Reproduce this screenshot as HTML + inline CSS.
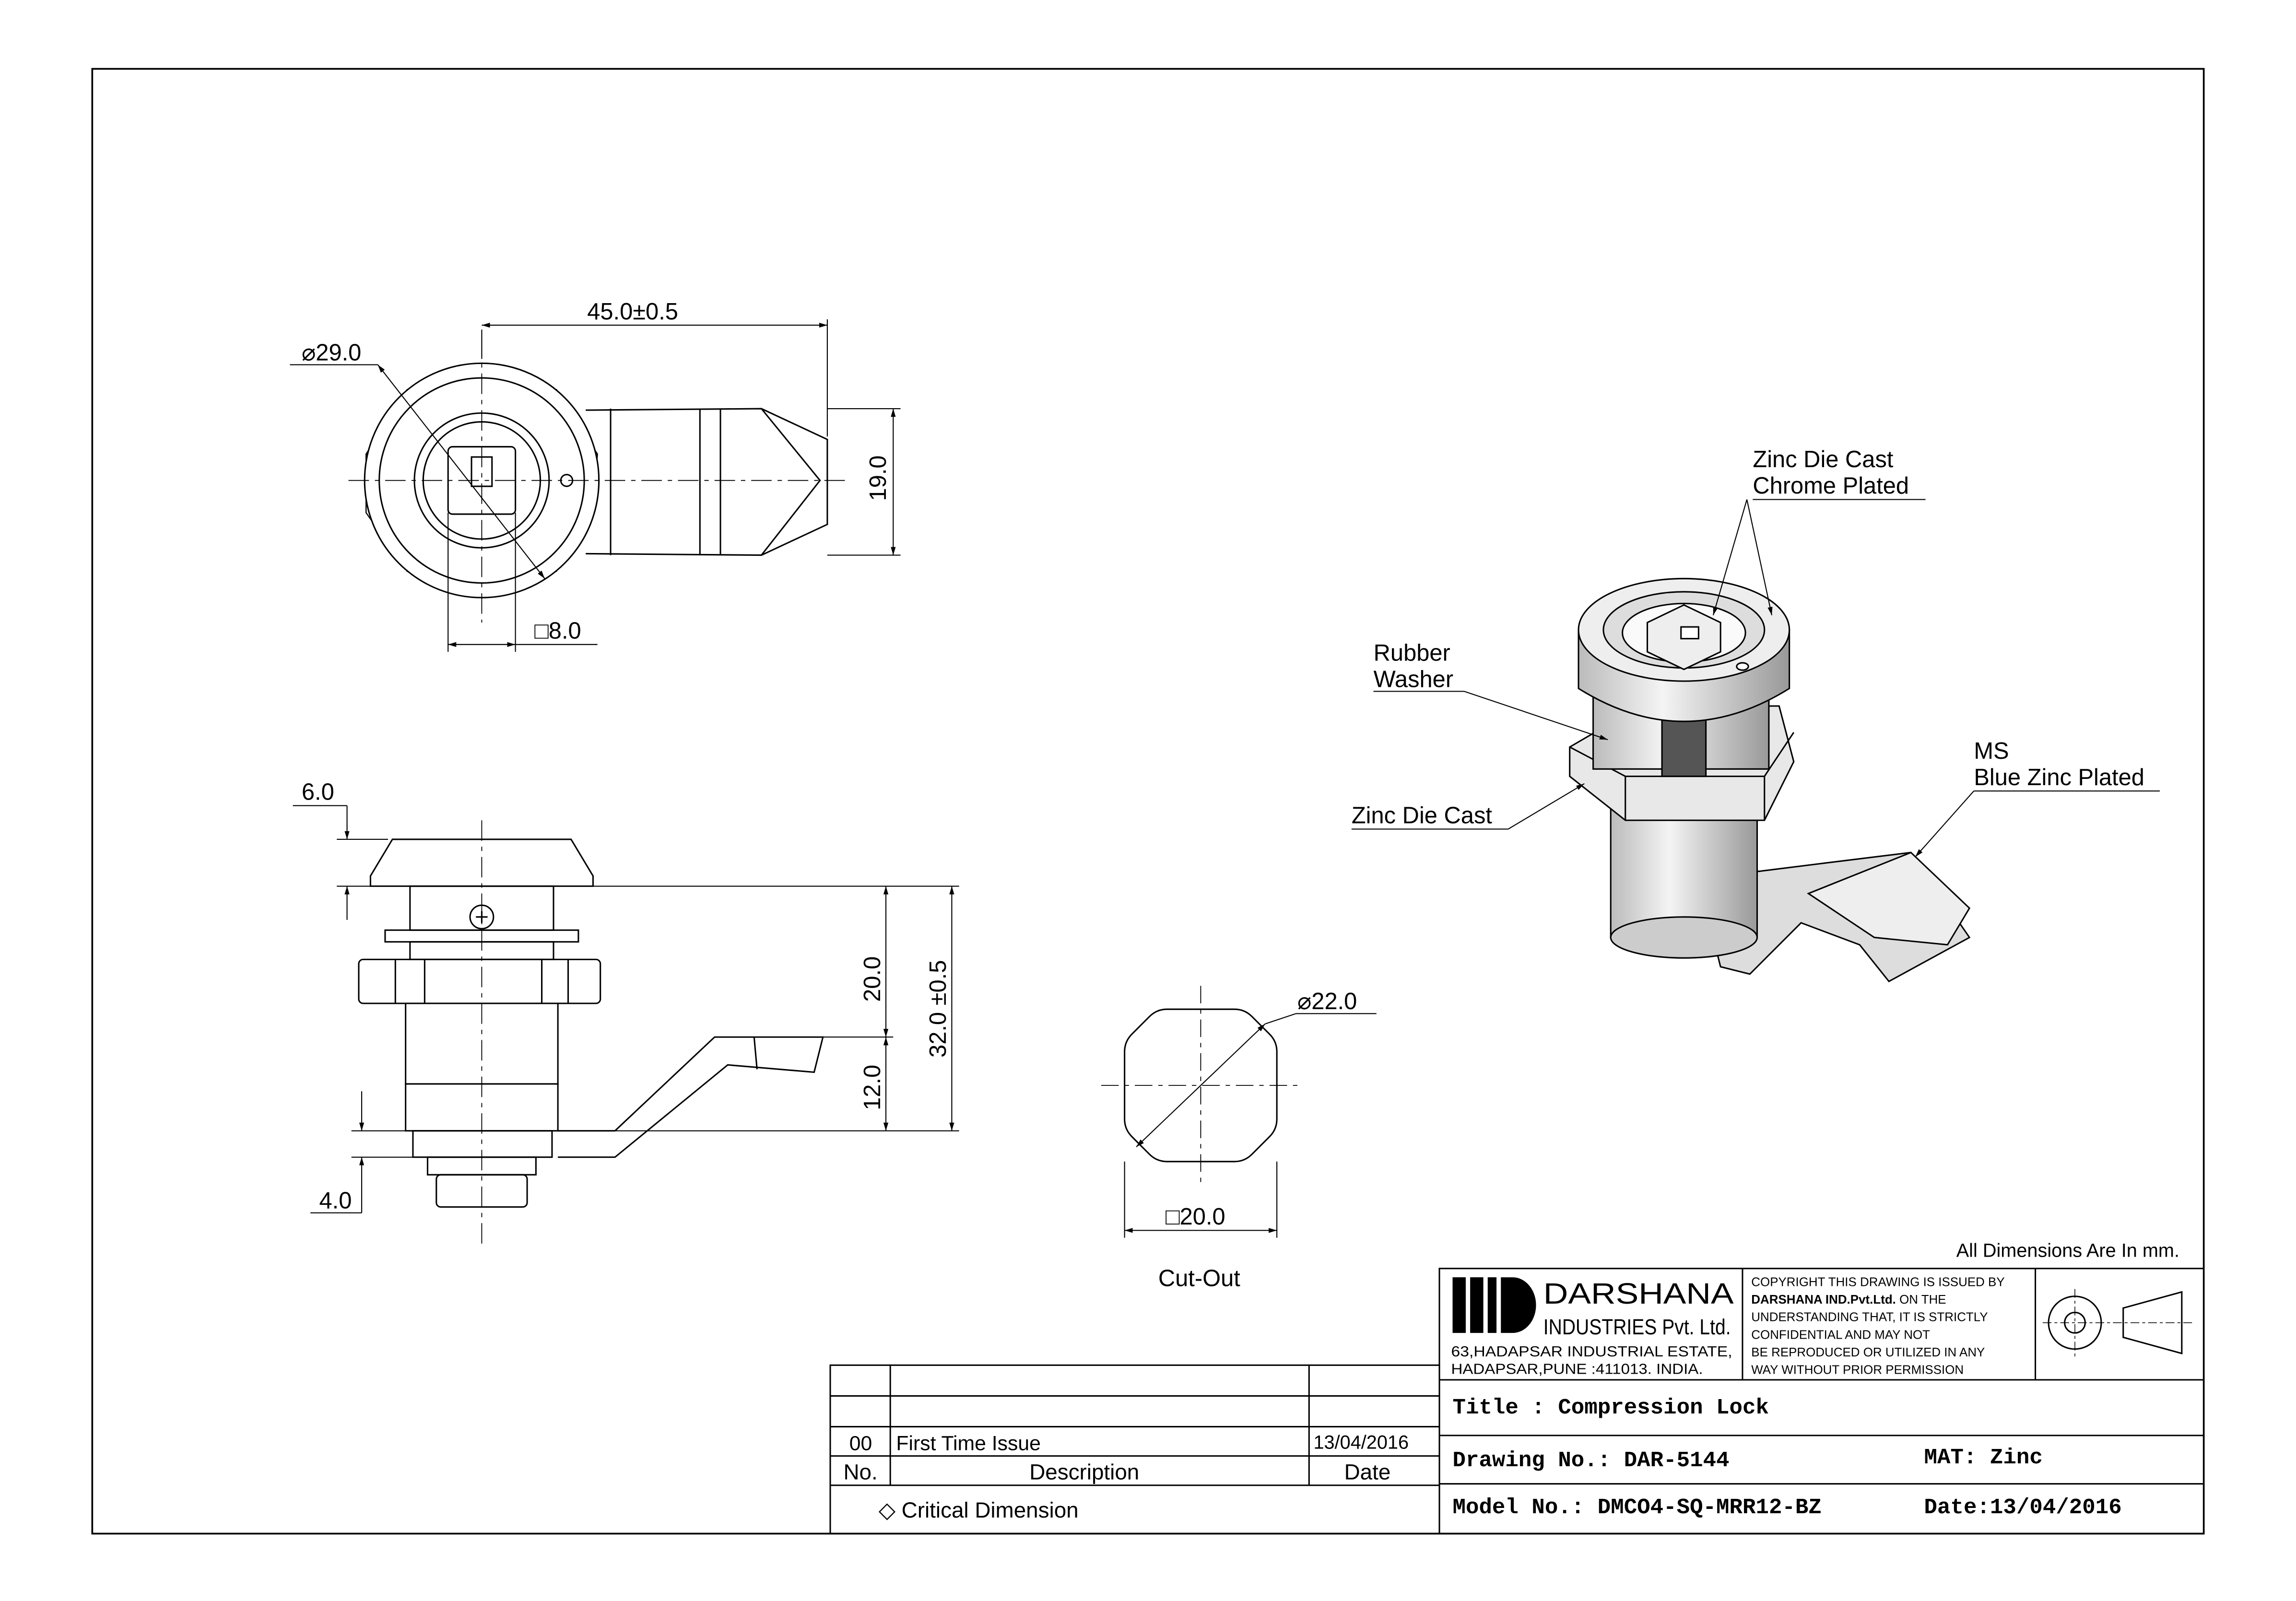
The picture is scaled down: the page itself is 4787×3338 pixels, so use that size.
<!DOCTYPE html>
<html><head><meta charset="utf-8"><style>
html,body{margin:0;padding:0;background:#fff}
svg{display:block}
text{font-family:"Liberation Sans",sans-serif;fill:#000}
.m{font-family:"Liberation Mono",monospace;font-weight:bold}
</style></head><body>
<svg width="4787" height="3338" viewBox="0 0 1568 1093" preserveAspectRatio="none" xmlns="http://www.w3.org/2000/svg">
<defs>
<marker id="a" viewBox="0 0 10 10" refX="10" refY="5" markerWidth="8" markerHeight="8" orient="auto-start-reverse"><path d="M0,2 L10,5 L0,8z" fill="#000"/></marker>
<linearGradient id="g" x1="0" x2="1"><stop offset="0" stop-color="#bbb"/><stop offset=".4" stop-color="#f4f4f4"/><stop offset="1" stop-color="#999"/></linearGradient>
</defs>
<rect x="0" y="0" width="1568" height="1093" fill="#fff"/>
<rect x="63" y="47" width="1442" height="1000" fill="none" stroke="#000" stroke-width="1.2"/>

<!-- TOP VIEW -->
<g fill="none" stroke="#000" stroke-width="1">
<polygon points="329,252 380,266 408,310 405,350 380,390 329,405 278,390 250,350 250,310 278,266" stroke-width="0.8"/>
<circle cx="329" cy="328" r="80" fill="#fff"/>
<circle cx="329" cy="328" r="70"/>
<circle cx="329" cy="328" r="46"/>
<circle cx="329" cy="328" r="40"/>
<rect x="306" y="305" width="46" height="46" rx="3"/>
<rect x="322" y="312" width="14" height="20"/>
<circle cx="387" cy="328" r="4"/>
<path d="M400,280 L520,279 L565,300 L565,358 L520,379 L400,378"/>
<line x1="417" y1="279" x2="417" y2="379"/>
<line x1="478" y1="279" x2="478" y2="379"/>
<line x1="492" y1="279" x2="492" y2="379"/>
<path d="M520,279 L560,328 L520,379"/>
</g>
<g stroke="#000" stroke-width="0.6" stroke-dasharray="14,4,3,4" fill="none">
<line x1="238" y1="328" x2="580" y2="328"/><line x1="329" y1="230" x2="329" y2="425"/>
</g>
<g stroke="#000" stroke-width="0.7" fill="none">
<line x1="329" y1="225" x2="329" y2="245"/><line x1="565" y1="218" x2="565" y2="298"/>
<line x1="329" y1="222" x2="565" y2="222" marker-start="url(#a)" marker-end="url(#a)"/>
<line x1="565" y1="279" x2="615" y2="279"/><line x1="565" y1="379" x2="615" y2="379"/>
<line x1="610" y1="279" x2="610" y2="379" marker-start="url(#a)" marker-end="url(#a)"/>
<line x1="198" y1="249" x2="258" y2="249"/><line x1="258" y1="249" x2="372" y2="395" marker-start="url(#a)" marker-end="url(#a)"/>
<line x1="306" y1="350" x2="306" y2="445"/><line x1="352" y1="350" x2="352" y2="445"/>
<line x1="306" y1="440" x2="352" y2="440" marker-start="url(#a)" marker-end="url(#a)"/><line x1="352" y1="440" x2="408" y2="440"/>
</g>
<text x="401" y="218" font-size="16">45.0±0.5</text>
<text x="206" y="246" font-size="16">⌀29.0</text>
<text x="365" y="436" font-size="16">□8.0</text>
<text x="605" y="342" font-size="16" transform="rotate(-90 605 342)">19.0</text>

<!-- SIDE VIEW -->
<g fill="none" stroke="#000" stroke-width="1">
<path d="M268,573 L390,573 L405,598 L405,605 L253,605 L253,598 Z" fill="#fff"/>
<rect x="280" y="605" width="98" height="30"/>
<rect x="263" y="635" width="132" height="8"/>
<rect x="280" y="643" width="98" height="12"/>
<rect x="245" y="655" width="165" height="30" rx="3"/>
<line x1="270" y1="655" x2="270" y2="685"/><line x1="290" y1="655" x2="290" y2="685"/><line x1="370" y1="655" x2="370" y2="685"/><line x1="388" y1="655" x2="388" y2="685"/>
<rect x="277" y="685" width="104" height="55"/>
<rect x="277" y="740" width="104" height="32"/>
<path d="M381,772 L420,772 L488,708 L562,708 L556,732 L497,727 L420,790 L381,790"/>
<rect x="282" y="772" width="95" height="18"/>
<rect x="292" y="790" width="74" height="12"/>
<rect x="298" y="802" width="62" height="22" rx="3"/>
<circle cx="329" cy="626" r="8"/>
<path d="M325,626 h8 M329,622 v8"/>
<line x1="515" y1="708" x2="517" y2="730"/>
</g>
<g stroke="#000" stroke-width="0.6" stroke-dasharray="14,4,3,4"><line x1="329" y1="560" x2="329" y2="850"/></g>
<g stroke="#000" stroke-width="0.7" fill="none">
<line x1="230" y1="573" x2="265" y2="573"/><line x1="230" y1="605" x2="253" y2="605"/>
<line x1="237" y1="550" x2="237" y2="573" marker-end="url(#a)"/><line x1="237" y1="628" x2="237" y2="605" marker-end="url(#a)"/>
<line x1="200" y1="550" x2="237" y2="550"/>
<line x1="405" y1="605" x2="655" y2="605"/><line x1="560" y1="708" x2="610" y2="708"/><line x1="420" y1="772" x2="655" y2="772"/>
<line x1="605" y1="605" x2="605" y2="708" marker-start="url(#a)" marker-end="url(#a)"/>
<line x1="605" y1="708" x2="605" y2="772" marker-start="url(#a)" marker-end="url(#a)"/>
<line x1="650" y1="605" x2="650" y2="772" marker-start="url(#a)" marker-end="url(#a)"/>
<line x1="240" y1="772" x2="282" y2="772"/><line x1="240" y1="790" x2="282" y2="790"/>
<line x1="247" y1="745" x2="247" y2="772" marker-end="url(#a)"/><line x1="247" y1="828" x2="247" y2="790" marker-end="url(#a)"/>
<line x1="212" y1="828" x2="247" y2="828"/>
</g>
<text x="206" y="546" font-size="16">6.0</text>
<text x="218" y="825" font-size="16">4.0</text>
<text x="601" y="684" font-size="16" transform="rotate(-90 601 684)">20.0</text>
<text x="601" y="758" font-size="16" transform="rotate(-90 601 758)">12.0</text>
<text x="646" y="722" font-size="16" transform="rotate(-90 646 722)">32.0 ±0.5</text>

<!-- CUT-OUT -->
<g fill="none" stroke="#000" stroke-width="1">
<path d="M797,689 L843,689 Q850,689 855,694 L867,706 Q872,711 872,718 L872,764 Q872,771 867,776 L855,788 Q850,793 843,793 L797,793 Q790,793 785,788 L773,776 Q768,771 768,764 L768,718 Q768,711 773,706 L785,694 Q790,689 797,689 Z"/>
</g>
<g stroke="#000" stroke-width="0.6" stroke-dasharray="12,4,3,4"><line x1="752" y1="741" x2="888" y2="741"/><line x1="820" y1="673" x2="820" y2="810"/></g>
<g stroke="#000" stroke-width="0.7" fill="none">
<line x1="776" y1="783" x2="864" y2="699" marker-start="url(#a)" marker-end="url(#a)"/>
<line x1="864" y1="699" x2="885" y2="692"/><line x1="885" y1="692" x2="940" y2="692"/>
<line x1="768" y1="793" x2="768" y2="845"/><line x1="872" y1="793" x2="872" y2="845"/>
<line x1="768" y1="840" x2="872" y2="840" marker-start="url(#a)" marker-end="url(#a)"/>
</g>
<text x="886" y="689" font-size="16">⌀22.0</text>
<text x="796" y="836" font-size="16">□20.0</text>
<text x="791" y="878" font-size="16">Cut-Out</text>

<!-- ISOMETRIC -->
<g stroke="#000" stroke-width="1">
<path d="M1160,600 L1240,590 L1305,582 L1345,640 L1290,670 L1270,645 L1230,630 L1195,665 L1175,660 Z" fill="#ddd"/>
<path d="M1235,610 L1305,582 L1345,620 L1330,645 L1280,640 Z" fill="#eee"/>
<rect x="1100" y="550" width="100" height="90" fill="url(#g)"/>
<ellipse cx="1150" cy="640" rx="50" ry="14" fill="#ccc"/>
<path d="M1072,510 L1120,482 L1215,482 L1225,520 L1205,560 L1110,560 L1072,530 Z" fill="#e8e8e8"/>
<path d="M1072,510 L1110,530 L1205,530 L1225,500 M1110,530 L1110,560 M1205,530 L1205,560" fill="none"/>
<rect x="1088" y="470" width="120" height="55" fill="url(#g)"/>
<rect x="1135" y="470" width="30" height="60" fill="#555"/>
<path d="M1078,430 L1078,470 Q1150,515 1222,470 L1222,430 Z" fill="url(#g)"/>
<ellipse cx="1150" cy="430" rx="72" ry="35" fill="#eee"/>
<ellipse cx="1150" cy="430" rx="55" ry="26" fill="#ddd"/>
<ellipse cx="1150" cy="432" rx="42" ry="20" fill="#fafafa"/>
<path d="M1125,425 L1150,413 L1175,425 L1175,445 L1150,457 L1125,445 Z" fill="#eee"/>
<rect x="1148" y="428" width="12" height="8" fill="#fff"/>
<ellipse cx="1190" cy="455" rx="4" ry="2.5" fill="#fff"/>
</g>
<g stroke="#000" stroke-width="0.7" fill="none">
<line x1="1197" y1="341" x2="1315" y2="341"/>
<line x1="1193" y1="341" x2="1170" y2="420" marker-end="url(#a)"/>
<line x1="1193" y1="341" x2="1210" y2="420" marker-end="url(#a)"/>
<line x1="938" y1="472" x2="1000" y2="472"/><line x1="1000" y1="472" x2="1098" y2="505" marker-end="url(#a)"/>
<line x1="923" y1="566" x2="1030" y2="566"/><line x1="1030" y1="566" x2="1082" y2="535" marker-end="url(#a)"/>
<line x1="1348" y1="540" x2="1475" y2="540"/><line x1="1348" y1="540" x2="1308" y2="585" marker-end="url(#a)"/>
</g>
<text x="1197" y="319" font-size="16">Zinc Die Cast</text>
<text x="1197" y="337" font-size="16">Chrome Plated</text>
<text x="938" y="451" font-size="16">Rubber</text>
<text x="938" y="469" font-size="16">Washer</text>
<text x="923" y="562" font-size="16">Zinc Die Cast</text>
<text x="1348" y="518" font-size="16">MS</text>
<text x="1348" y="536" font-size="16">Blue Zinc Plated</text>

<!-- TITLE BLOCK -->
<text x="1336" y="858" font-size="13">All Dimensions Are In mm.</text>
<g fill="none" stroke="#000" stroke-width="1">
<rect x="983" y="866" width="522" height="181"/>
<line x1="983" y1="942" x2="1505" y2="942"/><line x1="983" y1="980" x2="1505" y2="980"/><line x1="983" y1="1013" x2="1505" y2="1013"/>
<line x1="1190" y1="866" x2="1190" y2="942"/><line x1="1390" y1="866" x2="1390" y2="942"/>
<rect x="567" y="932" width="416" height="115"/>
<line x1="567" y1="953" x2="983" y2="953"/><line x1="567" y1="974" x2="983" y2="974"/><line x1="567" y1="994" x2="983" y2="994"/><line x1="567" y1="1014" x2="983" y2="1014"/>
<line x1="608" y1="932" x2="608" y2="1014"/><line x1="894" y1="932" x2="894" y2="1014"/>
<circle cx="1417" cy="903" r="18"/><circle cx="1417" cy="903" r="7"/>
<path d="M1450,893 L1490,882 L1490,924 L1450,913 Z"/>
</g>
<g stroke="#000" stroke-width="0.5" stroke-dasharray="6,2,2,2"><line x1="1395" y1="903" x2="1498" y2="903"/><line x1="1417" y1="880" x2="1417" y2="926"/></g>
<g fill="#000"><rect x="992" y="872" width="9" height="38"/><rect x="1004" y="872" width="9" height="38"/><rect x="1016" y="872" width="6" height="38"/><path d="M1025,872 h8 a16,19 0 0 1 0,38 h-8 z"/></g>
<text x="1054" y="890" font-size="20" textLength="130" lengthAdjust="spacingAndGlyphs">DARSHANA</text>
<text x="1054" y="911" font-size="15" textLength="128" lengthAdjust="spacingAndGlyphs">INDUSTRIES Pvt. Ltd.</text>
<text x="991" y="926" font-size="10" textLength="192" lengthAdjust="spacingAndGlyphs">63,HADAPSAR INDUSTRIAL ESTATE,</text>
<text x="991" y="938" font-size="10" textLength="172" lengthAdjust="spacingAndGlyphs">HADAPSAR,PUNE :411013. INDIA.</text>
<g font-size="8.5"><text x="1196" y="878">COPYRIGHT THIS DRAWING IS ISSUED BY</text>
<text x="1196" y="890"><tspan font-weight="bold">DARSHANA IND.Pvt.Ltd.</tspan> ON THE</text>
<text x="1196" y="902">UNDERSTANDING THAT, IT IS STRICTLY</text>
<text x="1196" y="914">CONFIDENTIAL AND MAY NOT</text>
<text x="1196" y="926">BE REPRODUCED OR UTILIZED IN ANY</text>
<text x="1196" y="938">WAY WITHOUT PRIOR PERMISSION</text></g>
<text class="m" x="992" y="965" font-size="15">Title : Compression Lock</text>
<text class="m" x="992" y="1001" font-size="15">Drawing No.: DAR-5144</text>
<text class="m" x="1314" y="999" font-size="15">MAT: Zinc</text>
<text class="m" x="992" y="1033" font-size="15">Model No.: DMCO4-SQ-MRR12-BZ</text>
<text class="m" x="1314" y="1033" font-size="15">Date:13/04/2016</text>
<text x="580" y="990" font-size="14">00</text>
<text x="612" y="990" font-size="14">First Time Issue</text>
<text x="897" y="989" font-size="13">13/04/2016</text>
<text x="576" y="1010" font-size="15">No.</text>
<text x="703" y="1010" font-size="15">Description</text>
<text x="918" y="1010" font-size="15">Date</text>
<text x="600" y="1036" font-size="15">◇ Critical Dimension</text>
</svg>
</body></html>
